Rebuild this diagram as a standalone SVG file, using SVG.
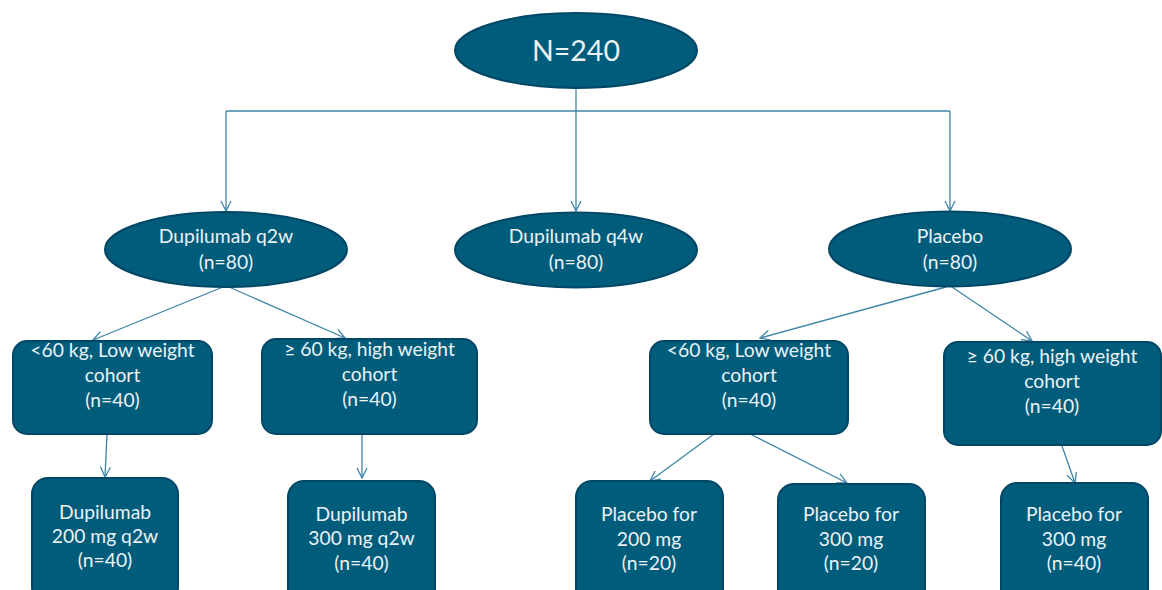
<svg xmlns="http://www.w3.org/2000/svg" width="1162" height="590" viewBox="0 0 1162 590">
<style>
.n{fill:#005C7B;stroke:#004766;stroke-width:2}
.t{fill:#EAF2F6;font-family:Lato,"Open Sans",sans-serif;font-size:19.3px;text-anchor:middle}
.big{font-size:28.5px}
.c{fill:none;stroke:#3F85A8;stroke-width:1.3}
</style>
<defs>
<marker id="a" viewBox="0 0 12 12" refX="11" refY="6" markerWidth="12" markerHeight="12" markerUnits="userSpaceOnUse" orient="auto">
<path d="M1,1 L11,6 L1,11" fill="none" stroke="#3F85A8" stroke-width="1.3"/>
</marker>
</defs>
<g id="connectors">
<path class="c" d="M576,88 V111"/>
<path class="c" d="M226,111 H950"/>
<path class="c" d="M226,111 V211" marker-end="url(#a)"/>
<path class="c" d="M576,111 V211" marker-end="url(#a)"/>
<path class="c" d="M950,111 V211" marker-end="url(#a)"/>
<path class="c" d="M223,287 L93,340" marker-end="url(#a)"/>
<path class="c" d="M229,287 L345,338" marker-end="url(#a)"/>
<path class="c" d="M107,434 L105,477" marker-end="url(#a)"/>
<path class="c" d="M362,434 L362,478" marker-end="url(#a)"/>
<path class="c" d="M946,287 L760,338" marker-end="url(#a)"/>
<path class="c" d="M952,287 L1032,341" marker-end="url(#a)"/>
<path class="c" d="M714,434 L650,481" marker-end="url(#a)"/>
<path class="c" d="M750,434 L847,483" marker-end="url(#a)"/>
<path class="c" d="M1062,446 L1075,483" marker-end="url(#a)"/>
</g>
<g id="n-total">
<ellipse class="n" cx="576" cy="50.5" rx="121" ry="37.5"/>
<text class="t big" x="576" y="61">N=240</text>
</g>
<g id="n-q2w">
<ellipse class="n" cx="226" cy="249.5" rx="121" ry="37.5"/>
<text class="t" x="226" y="243">Dupilumab q2w</text>
<text class="t" x="226" y="269">(n=80)</text>
</g>
<g id="n-q4w">
<ellipse class="n" cx="576" cy="250" rx="121" ry="37.5"/>
<text class="t" x="576" y="243">Dupilumab q4w</text>
<text class="t" x="576" y="269">(n=80)</text>
</g>
<g id="n-placebo">
<ellipse class="n" cx="950" cy="249" rx="121" ry="37.5"/>
<text class="t" x="950" y="243">Placebo</text>
<text class="t" x="950" y="269">(n=80)</text>
</g>
<g id="n-low1">
<rect class="n" x="13" y="341" width="199" height="93" rx="14"/>
<text class="t" x="112.5" y="357">&lt;60 kg, Low weight</text>
<text class="t" x="112.5" y="382">cohort</text>
<text class="t" x="112.5" y="407">(n=40)</text>
</g>
<g id="n-high1">
<rect class="n" x="262" y="339" width="215" height="95" rx="14"/>
<text class="t" x="369.5" y="356">≥ 60 kg, high weight</text>
<text class="t" x="369.5" y="381">cohort</text>
<text class="t" x="369.5" y="406">(n=40)</text>
</g>
<g id="n-low2">
<rect class="n" x="650" y="341" width="198" height="93" rx="14"/>
<text class="t" x="749" y="357">&lt;60 kg, Low weight</text>
<text class="t" x="749" y="382">cohort</text>
<text class="t" x="749" y="407">(n=40)</text>
</g>
<g id="n-high2">
<rect class="n" x="944" y="342" width="217" height="103" rx="14"/>
<text class="t" x="1052" y="363">≥ 60 kg, high weight</text>
<text class="t" x="1052" y="388">cohort</text>
<text class="t" x="1052" y="413">(n=40)</text>
</g>
<g id="n-dup200">
<rect class="n" x="32" y="478" width="146" height="125" rx="16"/>
<text class="t" x="105" y="519">Dupilumab</text>
<text class="t" x="105" y="543">200 mg q2w</text>
<text class="t" x="105" y="567">(n=40)</text>
</g>
<g id="n-dup300">
<rect class="n" x="288" y="481" width="147" height="125" rx="16"/>
<text class="t" x="361.5" y="521">Dupilumab</text>
<text class="t" x="361.5" y="545">300 mg q2w</text>
<text class="t" x="361.5" y="570">(n=40)</text>
</g>
<g id="n-pl200">
<rect class="n" x="576" y="481" width="147" height="125" rx="16"/>
<text class="t" x="649" y="521">Placebo for</text>
<text class="t" x="649" y="546">200 mg</text>
<text class="t" x="649" y="570">(n=20)</text>
</g>
<g id="n-pl300a">
<rect class="n" x="778" y="484" width="147" height="125" rx="16"/>
<text class="t" x="851" y="521">Placebo for</text>
<text class="t" x="851" y="546">300 mg</text>
<text class="t" x="851" y="570">(n=20)</text>
</g>
<g id="n-pl300b">
<rect class="n" x="1001" y="483" width="147" height="125" rx="16"/>
<text class="t" x="1074" y="521">Placebo for</text>
<text class="t" x="1074" y="546">300 mg</text>
<text class="t" x="1074" y="570">(n=40)</text>
</g>
</svg>
